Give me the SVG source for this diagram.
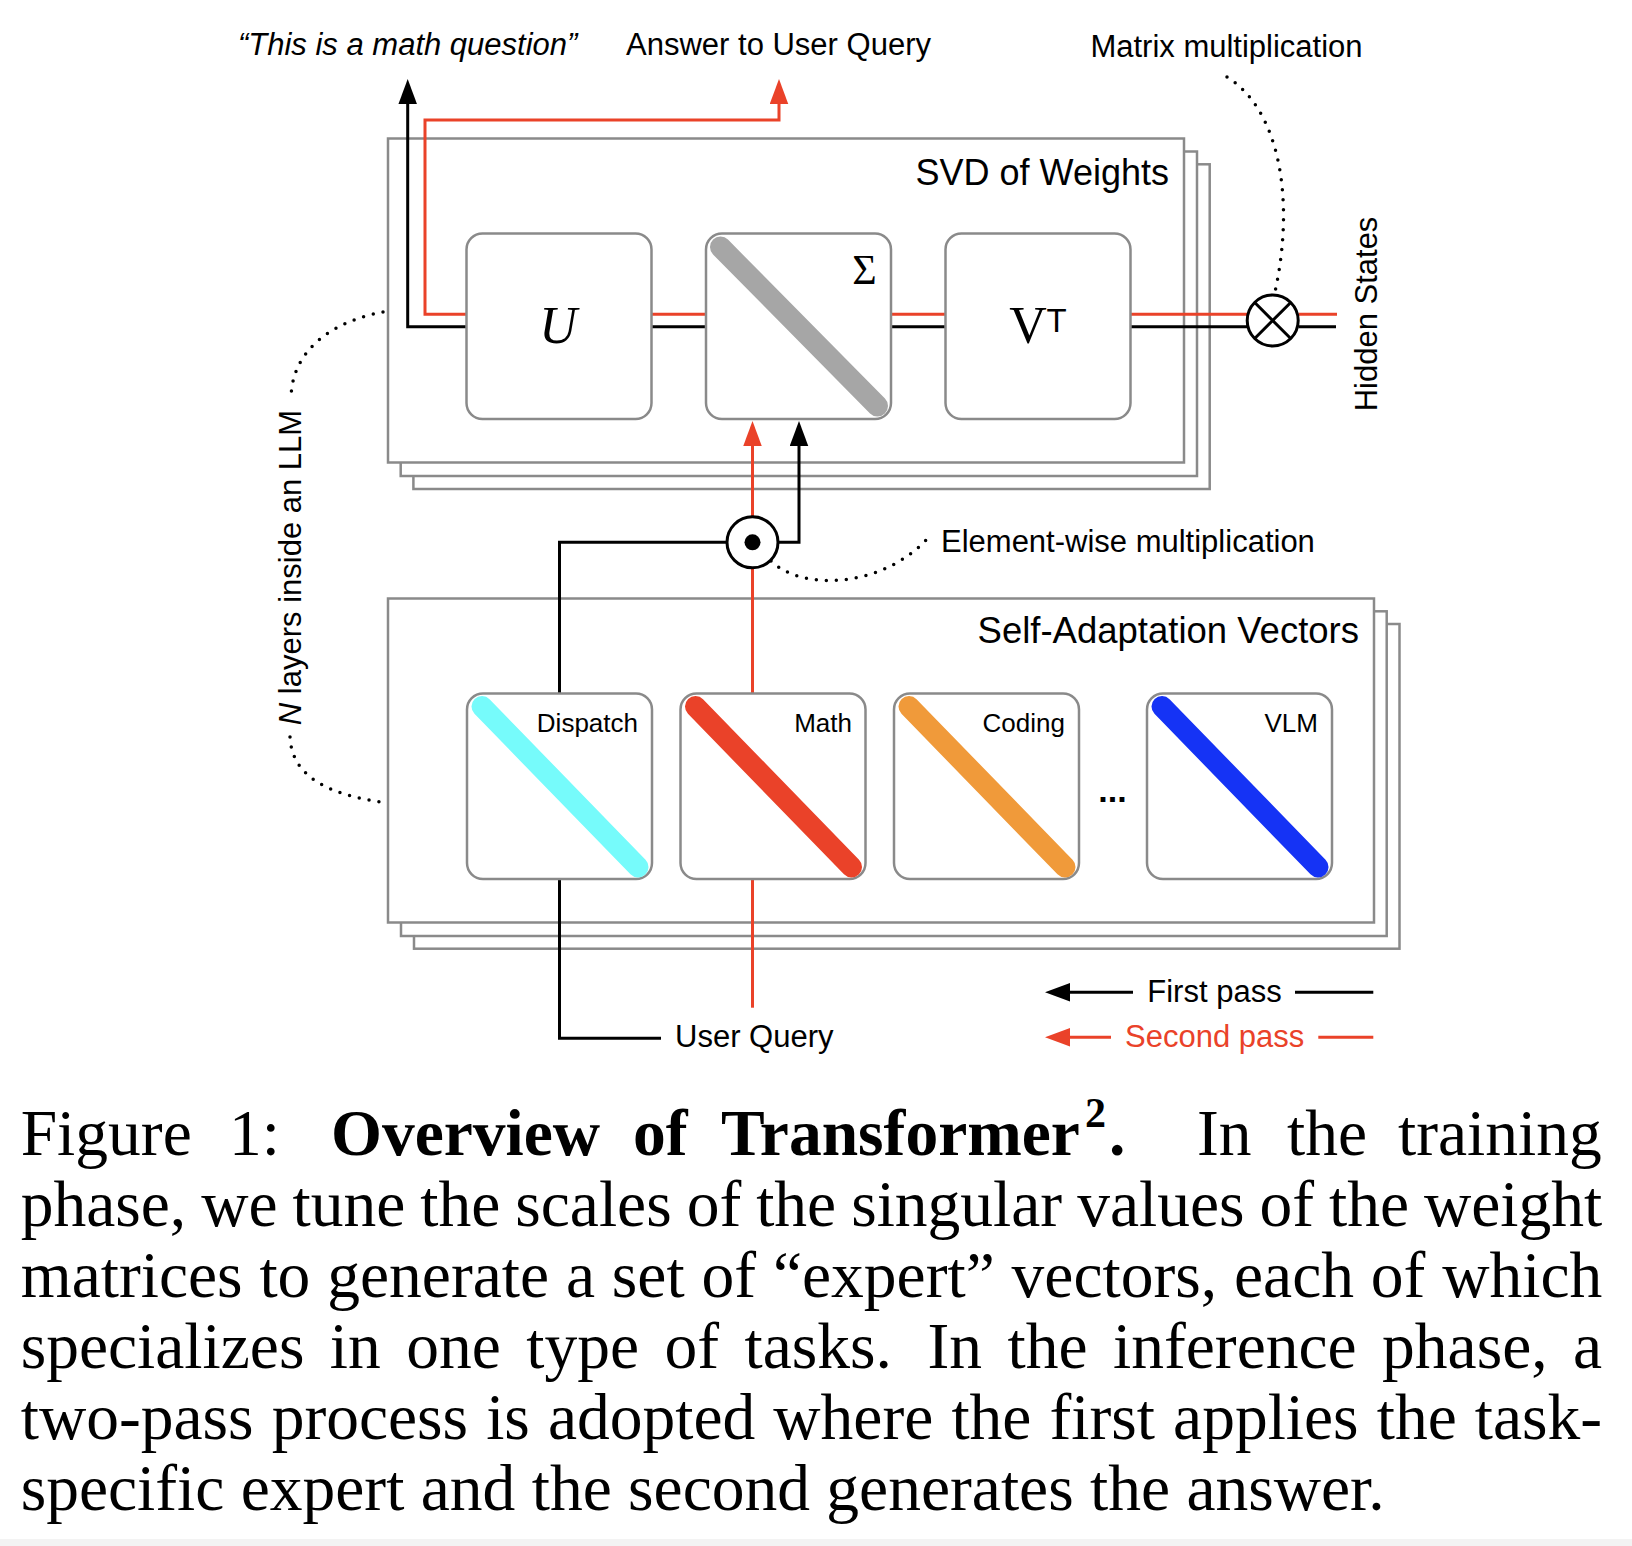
<svg xmlns="http://www.w3.org/2000/svg" width="1632" height="1546" viewBox="0 0 1632 1546">
<style>
.frame{fill:#fff;stroke:#8a8a8a;stroke-width:2.5}
.card{fill:#fff;stroke:#8a8a8a;stroke-width:2.5}
.diag{stroke-width:21;stroke-linecap:round;fill:none}
.blk{fill:none;stroke:#000;stroke-width:3}
.red{fill:none;stroke:#EA4229;stroke-width:3}
.dots{fill:none;stroke:#000;stroke-width:3.5;stroke-linecap:round;stroke-dasharray:0 10}
.lbl{font-family:"Liberation Sans",Arial,sans-serif;font-size:31px;fill:#000}
.head{font-family:"Liberation Sans",Arial,sans-serif;font-size:36px;fill:#000}
.tag{font-family:"Liberation Sans",Arial,sans-serif;font-size:26px;fill:#000}
.cap{font-family:"Liberation Serif","Times New Roman",serif;font-size:65.5px;fill:#000}
.op{fill:#fff;stroke:#000;stroke-width:3}
</style>
<defs>
<marker id="ab" markerUnits="userSpaceOnUse" markerWidth="26" markerHeight="19" refX="5" refY="9.25" orient="auto"><path d="M0,0 L25,9.25 L0,18.5 z" fill="#000"/></marker>
<marker id="ar" markerUnits="userSpaceOnUse" markerWidth="26" markerHeight="19" refX="5" refY="9.25" orient="auto"><path d="M0,0 L25,9.25 L0,18.5 z" fill="#EA4229"/></marker>
</defs>
<rect width="1632" height="1546" fill="#fff"/>
<rect x="0" y="1539" width="1632" height="7" fill="#f3f3f3"/>

<g id="svd-stack">
<rect class="frame" x="413.4" y="164.3" width="796.3" height="324.7"/>
<rect class="frame" x="400.7" y="151.5" width="796.3" height="324.5"/>
<rect class="frame" x="388" y="138.5" width="796" height="324"/>
<text class="head" x="1169" y="185" text-anchor="end">SVD of Weights</text>
</g>

<g id="sav-stack">
<rect class="frame" x="414" y="624" width="985.5" height="324.7"/>
<rect class="frame" x="401" y="611.3" width="985.7" height="324.7"/>
<rect class="frame" x="388" y="598.5" width="986" height="324"/>
<text class="head" x="1359" y="643.3" text-anchor="end" style="font-size:36.5px">Self-Adaptation Vectors</text>
</g>

<g id="connectors">
<path class="blk" d="M466.5,326.7 H407.7 V99" marker-end="url(#ab)"/>
<path class="red" d="M466.5,314.3 H425 V120 H779 V99" marker-end="url(#ar)"/>
<path class="red" d="M651.5,314.3 H706 M891,314.3 H945.5 M1130.5,314.3 H1247 M1298.5,314.3 H1337"/>
<path class="blk" d="M651.5,326.7 H706 M891,326.7 H945.5 M1130.5,326.7 H1247 M1298.5,326.7 H1336"/>
<path class="blk" d="M661,1038.3 H559.5 V879"/>
<path class="blk" d="M559.5,693.5 V542.3 H727"/>
<path class="blk" d="M778,542.3 H799 V441" marker-end="url(#ab)"/>
<path class="red" d="M752.5,1007.7 V879"/>
<path class="red" d="M752.5,693.5 V568"/>
<path class="red" d="M752.5,516.5 V441" marker-end="url(#ar)"/>
<path class="dots" d="M1227,77 C1280,110 1295,200 1275,292"/>
<path class="dots" d="M771,561 C800,590 880,590 928,538"/>
<path class="dots" d="M383,312 C340,320 292,345 291,398"/>
<path class="dots" d="M290,737 C292,780 335,795 380,802"/>
</g>

<g id="U">
<rect class="card" x="466.5" y="233.5" width="185" height="185.5" rx="16"/>
<text x="558" y="343" text-anchor="middle" font-family="Liberation Serif,serif" font-style="italic" font-size="52">U</text>
</g>
<g id="Sigma">
<rect class="card" x="706" y="233.5" width="185" height="185.5" rx="16"/>
<path class="diag" stroke="#A6A6A6" d="M720.5,247 L877.5,406"/>
<text x="864.6" y="284" text-anchor="middle" font-family="Liberation Serif,serif" font-size="42">Σ</text>
</g>
<g id="VT">
<rect class="card" x="945.5" y="233.5" width="185" height="185.5" rx="16"/>
<text x="1028" y="343.3" text-anchor="middle" font-family="Liberation Serif,serif" font-size="52">V</text>
<text x="1046.5" y="331.7" font-family="Liberation Sans,sans-serif" font-size="33">T</text>
</g>

<g id="matmul">
<circle class="op" cx="1272.7" cy="320.5" r="25.5"/>
<path class="blk" d="M1254.7,302.5 L1290.7,338.5 M1290.7,302.5 L1254.7,338.5"/>
</g>
<g id="elemmul">
<circle class="op" cx="752.5" cy="542.3" r="25.5"/>
<circle cx="752.5" cy="542.3" r="8" fill="#000"/>
</g>

<g id="dispatch">
<rect class="card" x="467" y="693.5" width="185" height="185.5" rx="16"/>
<path class="diag" stroke="#76FBFB" d="M482,706.5 L638,867"/>
<text class="tag" x="638" y="731.5" text-anchor="end">Dispatch</text>
</g>
<g id="math">
<rect class="card" x="680.5" y="693.5" width="185" height="185.5" rx="16"/>
<path class="diag" stroke="#EA4229" d="M695.5,706.5 L851.5,867"/>
<text class="tag" x="852" y="731.5" text-anchor="end">Math</text>
</g>
<g id="coding">
<rect class="card" x="894" y="693.5" width="185" height="185.5" rx="16"/>
<path class="diag" stroke="#F09A3A" d="M909,706.5 L1065,867"/>
<text class="tag" x="1065" y="731.5" text-anchor="end">Coding</text>
</g>
<text x="1112.5" y="802" text-anchor="middle" font-family="Liberation Sans,sans-serif" font-size="34" font-weight="bold">...</text>
<g id="vlm">
<rect class="card" x="1147" y="693.5" width="185" height="185.5" rx="16"/>
<path class="diag" stroke="#1533F5" d="M1162,706.5 L1318,867"/>
<text class="tag" x="1318" y="731.5" text-anchor="end">VLM</text>
</g>

<g id="labels">
<text class="lbl" x="407.7" y="55" text-anchor="middle" font-style="italic">“This is a math question”</text>
<text class="lbl" x="778.5" y="55" text-anchor="middle">Answer to User Query</text>
<text class="lbl" x="1226.5" y="57" text-anchor="middle">Matrix multiplication</text>
<text class="lbl" x="941" y="551.7">Element-wise multiplication</text>
<text class="lbl" x="675" y="1046.7">User Query</text>
<text class="lbl" transform="translate(1377,314) rotate(-90)" text-anchor="middle">Hidden States</text>
<text class="lbl" transform="translate(301,567.5) rotate(-90)" text-anchor="middle"><tspan font-style="italic">N</tspan> layers inside an LLM</text>
</g>

<g id="legend">
<path class="blk" d="M1133,992.3 H1065" marker-end="url(#ab)"/>
<path class="blk" d="M1295,992.3 H1373.3"/>
<text class="lbl" x="1147.3" y="1001.7">First pass</text>
<path class="red" d="M1111,1037.3 H1065" marker-end="url(#ar)"/>
<path class="red" d="M1318.3,1037.3 H1373.3"/>
<text class="lbl" x="1125" y="1046.7" style="fill:#EA4229">Second pass</text>
</g>

<g id="caption">
<text class="cap" y="1155"><tspan x="20.7">Figure</tspan><tspan x="229">1:</tspan><tspan x="331" font-weight="bold">Overview</tspan><tspan x="633" font-weight="bold">of</tspan><tspan x="721" font-weight="bold">Transformer</tspan><tspan x="1085" dy="-28" font-weight="bold" font-size="42">2</tspan><tspan x="1109" dy="28" font-weight="bold">.</tspan><tspan x="1197">In</tspan><tspan x="1287">the</tspan><tspan x="1398">training</tspan></text>
<text class="cap" x="20.7" y="1226" word-spacing="-1.4">phase, we tune the scales of the singular values of the weight</text>
<text class="cap" x="20.7" y="1297" word-spacing="0.5">matrices to generate a set of “expert” vectors, each of which</text>
<text class="cap" x="20.7" y="1368" word-spacing="9.1">specializes in one type of tasks. <tspan dx="10">In the inference phase, a</tspan></text>
<text class="cap" x="20.7" y="1439" word-spacing="1.7">two-pass process is adopted where the first applies the task-</text>
<text class="cap" x="20.7" y="1510">specific expert and the second generates the answer.</text>
</g>
</svg>
